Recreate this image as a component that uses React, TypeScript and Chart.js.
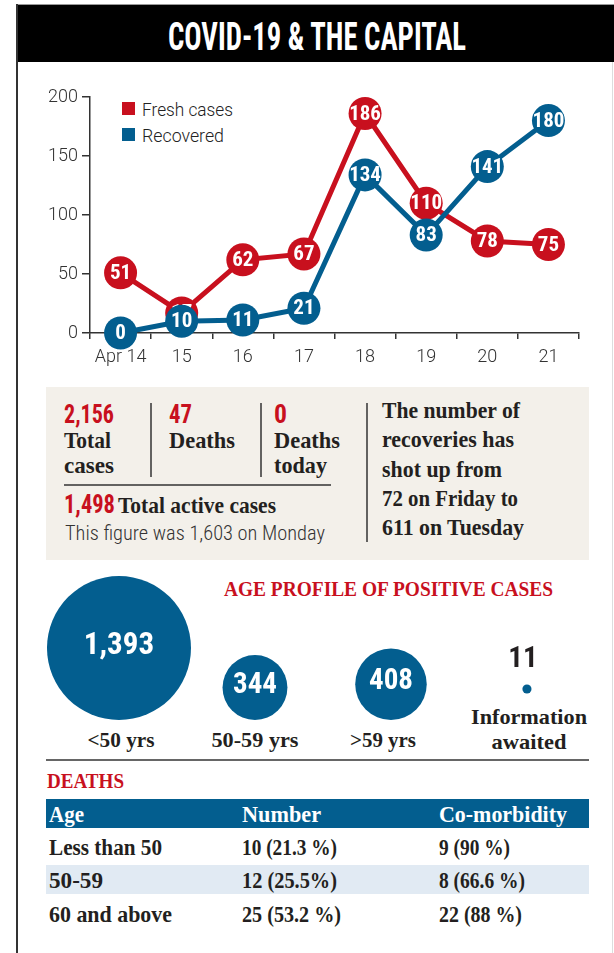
import React, { useEffect, useRef } from "react";
import { Chart, registerables } from "chart.js";
Chart.register(...registerables);

// ---------- data ----------
const dates = ["Apr 14", "15", "16", "17", "18", "19", "20", "21"];
const freshCases = [51, 17, 62, 67, 186, 110, 78, 75];
const recovered = [0, 10, 11, 21, 134, 83, 141, 180];
const yMax = 200;
const yStep = 50;

const ageGroups = ["<50 yrs", "50-59 yrs", ">59 yrs", "Information awaited"];
const ageCases = [1393, 344, 408, 11];

const deathHeaders = ["Age", "Number", "Co-morbidity"];
const deathAges = ["Less than 50", "50-59", "60 and above"];
const deathNumbers = ["10 (21.3 %)", "12 (25.5%)", "25 (53.2 %)"];
const deathComorbid = ["9 (90 %)", "8 (66.6 %)", "22 (88 %)"];

const totalCases = "2,156";
const totalDeaths = "47";
const deathsToday = "0";
const activeCases = "1,498";
const activeMonday = "1,603";
const recoveryNote = ["The number of", "recoveries has", "shot up from", "72 on Friday to", "611 on Tuesday"];

// ---------- styles ----------
const RED = "#c8101e";
const BLUE = "#035e8f";
const DARK = "#231f20";
const SERIF = "'Liberation Serif', serif";
const COND = "'Roboto Condensed', 'Roboto', sans-serif";
const SANS = "Roboto, sans-serif";

type TP = {
  x: number; y: number; s: number; f?: string; w?: number | string; c?: string;
  len?: number; anchor?: "start" | "middle" | "end"; children: React.ReactNode;
};
const T = ({ x, y, s, f = SERIF, w = 700, c = DARK, len, anchor = "start", children }: TP) => (
  <text
    x={x} y={y} fontFamily={f} fontSize={s} fontWeight={w as any} fill={c} textAnchor={anchor}
    textLength={len} lengthAdjust={len ? "spacingAndGlyphs" : undefined}
  >
    {children}
  </text>
);

function LineChart() {
  const ref = useRef<HTMLCanvasElement>(null);
  useEffect(() => {
    const labelPlugin = {
      id: "pointLabels",
      afterDatasetDraw(chart: any, args: any) {
        const ctx = chart.ctx;
        const ds = chart.data.datasets[args.index];
        ctx.save();
        ctx.fillStyle = "#ffffff";
        ctx.font = "700 21px 'Roboto Condensed'";
        ctx.textAlign = "center";
        ctx.textBaseline = "middle";
        args.meta.data.forEach((el: any, i: number) => {
          ctx.fillText(String(ds.data[i]), el.x, el.y + 1);
        });
        ctx.restore();
      },
    };
    const tickFont = { family: "Roboto", size: 18, weight: 300 as any };
    const chart = new Chart(ref.current!, {
      type: "line",
      data: {
        labels: dates,
        datasets: [
          {
            label: "Recovered", data: recovered, borderColor: BLUE, backgroundColor: BLUE,
            pointBackgroundColor: BLUE, pointBorderWidth: 0, pointRadius: 16.5, borderWidth: 5,
            clip: false as any, tension: 0,
          },
          {
            label: "Fresh cases", data: freshCases, borderColor: RED, backgroundColor: RED,
            pointBackgroundColor: RED, pointBorderWidth: 0, pointRadius: 16.5, borderWidth: 5,
            clip: false as any, tension: 0,
          },
        ],
      },
      options: {
        responsive: false,
        animation: false,
        devicePixelRatio: 1,
        layout: { autoPadding: false, padding: { top: 17, right: 35, left: 0, bottom: 0 } } as any,
        plugins: { legend: { display: false }, tooltip: { enabled: false } },
        scales: {
          x: {
            type: "category",
            offset: true,
            grid: { offset: true, drawOnChartArea: false, tickLength: 6, color: "#333", lineWidth: 1.5 },
            border: { color: "#333", width: 1.5 },
            ticks: { font: tickFont, color: "#333", padding: 8, maxRotation: 0 },
            afterFit: (s: any) => { s.height = 47; },
          },
          y: {
            min: 0, max: yMax,
            grid: { drawOnChartArea: false, tickLength: 8, color: "#333", lineWidth: 1.5 },
            border: { color: "#333", width: 1.5 },
            ticks: { stepSize: yStep, font: tickFont, color: "#333", padding: 4 },
            afterFit: (s: any) => { s.width = 90; },
          },
        },
      },
      plugins: [labelPlugin],
    });
    return () => chart.destroy();
  }, []);
  return (
    <canvas ref={ref} width={614} height={300}
      style={{ position: "absolute", left: 0, top: 80, width: 614, height: 300 }} />
  );
}

function BubbleChart() {
  const ref = useRef<HTMLCanvasElement>(null);
  useEffect(() => {
    const maxV = Math.max(...ageCases);
    const pts = ageCases.map((v, i) => {
      const r = 72 * Math.pow(v / maxV, 0.57);
      return { x: i, y: r > 15 ? r : 31, r };
    });
    const labelPlugin = {
      id: "bubbleLabels",
      afterDatasetsDraw(chart: any) {
        const ctx = chart.ctx;
        const meta = chart.getDatasetMeta(0);
        ctx.save();
        ctx.textAlign = "center";
        ctx.textBaseline = "middle";
        meta.data.forEach((el: any, i: number) => {
          const txt = ageCases[i].toLocaleString("en-US");
          if (pts[i].r > 15) {
            ctx.fillStyle = "#ffffff";
            ctx.font = `700 ${i === 0 ? 31 : 29}px 'Roboto Condensed'`;
            ctx.fillText(txt, el.x, el.y - 2);
          } else {
            ctx.fillStyle = DARK;
            ctx.font = "700 29px 'Roboto Condensed'";
            ctx.fillText(txt, el.x - 4, el.y - 29);
          }
        });
        ctx.restore();
      },
    };
    const chart = new Chart(ref.current!, {
      type: "bubble",
      data: {
        datasets: [{
          label: "Age profile", data: pts as any, backgroundColor: BLUE, borderWidth: 0,
          clip: false as any,
        }],
      },
      options: {
        responsive: false,
        animation: false,
        devicePixelRatio: 1,
        layout: { autoPadding: false, padding: 0 } as any,
        plugins: { legend: { display: false }, tooltip: { enabled: false } },
        scales: {
          x: { type: "linear", display: false, min: -0.875, max: 3.64 },
          y: { type: "linear", display: false, min: -40, max: 160 },
        },
      },
      plugins: [labelPlugin],
    });
    return () => chart.destroy();
  }, []);
  return (
    <canvas ref={ref} width={614} height={200}
      style={{ position: "absolute", left: 0, top: 560, width: 614, height: 200 }} />
  );
}

export default function App() {
  const ageLabelX = [121, 255, 383, 529];
  const colX = [49, 242, 439];
  const rowBase = [855, 888, 922];
  return (
    <div style={{ position: "absolute", left: 0, top: 0, width: 614, height: 953, background: "#fff", overflow: "hidden" }}>
      <svg width={614} height={953} style={{ position: "absolute", left: 0, top: 0 }}>
        {/* header */}
        <rect x={16} y={4} width={598} height={58} fill="#000" />
        <line x1={16} y1={4.5} x2={614} y2={4.5} stroke="#999" strokeWidth={1} />
        <T x={317} y={50} s={39} f={COND} c="#fff" anchor="middle" len={298}>COVID-19 &amp; THE CAPITAL</T>
        {/* panel borders */}
        <line x1={17} y1={4} x2={17} y2={953} stroke="#333" strokeWidth={2} />
        <line x1={612.5} y1={62} x2={612.5} y2={953} stroke="#ddd" strokeWidth={1} />

        {/* legend */}
        <rect x={122} y={102} width={13} height={13} fill={RED} />
        <T x={142} y={116} s={18} f={SANS} w={300} c="#222" len={91}>Fresh cases</T>
        <rect x={122} y={128} width={13} height={13} fill={BLUE} />
        <T x={142} y={142} s={18} f={SANS} w={300} c="#222" len={82}>Recovered</T>

        {/* stats box */}
        <rect x={46} y={387} width={543} height={173} fill="#f3f0ea" />
        <T x={64} y={423} s={25} f={COND} c={RED} len={50}>{totalCases}</T>
        <T x={64} y={448} s={24} len={47}>Total</T>
        <T x={64} y={473} s={24} len={50}>cases</T>
        <line x1={151} y1={403} x2={151} y2={477} stroke="#333" strokeWidth={1.5} />
        <T x={169} y={423} s={25} f={COND} c={RED} len={23}>{totalDeaths}</T>
        <T x={169} y={448} s={24} len={66}>Deaths</T>
        <line x1={261} y1={403} x2={261} y2={477} stroke="#333" strokeWidth={1.5} />
        <T x={274} y={423} s={25} f={COND} c={RED} len={13}>{deathsToday}</T>
        <T x={274} y={448} s={24} len={66}>Deaths</T>
        <T x={274} y={473} s={24} len={53}>today</T>
        <line x1={64} y1={485} x2={331} y2={485} stroke="#333" strokeWidth={1.5} />
        <T x={64} y={513} s={25} f={COND} c={RED} len={51}>{activeCases}</T>
        <T x={118} y={513} s={24} len={158}>Total active cases</T>
        <T x={65} y={540} s={20} f={COND} w={300} c="#333" len={260}>{`This figure was ${activeMonday} on Monday`}</T>
        <line x1={367} y1={403} x2={367} y2={542} stroke="#333" strokeWidth={1.5} />
        {recoveryNote.map((t, i) => (
          <T key={t} x={382} y={418 + i * 29.3} s={23} len={[138, 132, 120, 136, 142][i]}>{t}</T>
        ))}

        {/* age profile */}
        <T x={224} y={596} s={21} c={RED} len={329}>AGE PROFILE OF POSITIVE CASES</T>
        {ageGroups.slice(0, 3).map((g, i) => (
          <T key={g} x={ageLabelX[i]} y={747} s={22} anchor="middle" len={[67, 87, 66][i]}>{g}</T>
        ))}
        <T x={ageLabelX[3]} y={724} s={22} anchor="middle" len={116}>{ageGroups[3].split(" ")[0]}</T>
        <T x={ageLabelX[3]} y={749} s={22} anchor="middle" len={75}>{ageGroups[3].split(" ")[1]}</T>
        <line x1={46} y1={760} x2={589} y2={760} stroke="#666" strokeWidth={2} />

        {/* deaths table */}
        <T x={47} y={788} s={21} c={RED} len={77}>DEATHS</T>
        <rect x={46} y={799} width={543} height={29} fill={BLUE} />
        {deathHeaders.map((h, i) => (
          <T key={h} x={colX[i]} y={822} s={23} c="#fff" len={[35, 79, 128][i]}>{h}</T>
        ))}
        <rect x={46} y={865} width={543} height={29} fill="#e1eaf3" />
        {deathAges.map((a, r) => (
          <g key={a}>
            <T x={colX[0]} y={rowBase[r]} s={23} len={[113, 54, 123][r]}>{a}</T>
            <T x={colX[1]} y={rowBase[r]} s={23} len={[95, 95, 99][r]}>{deathNumbers[r]}</T>
            <T x={colX[2]} y={rowBase[r]} s={23} len={[71, 86, 83][r]}>{deathComorbid[r]}</T>
          </g>
        ))}
      </svg>
      <LineChart />
      <BubbleChart />
    </div>
  );
}
